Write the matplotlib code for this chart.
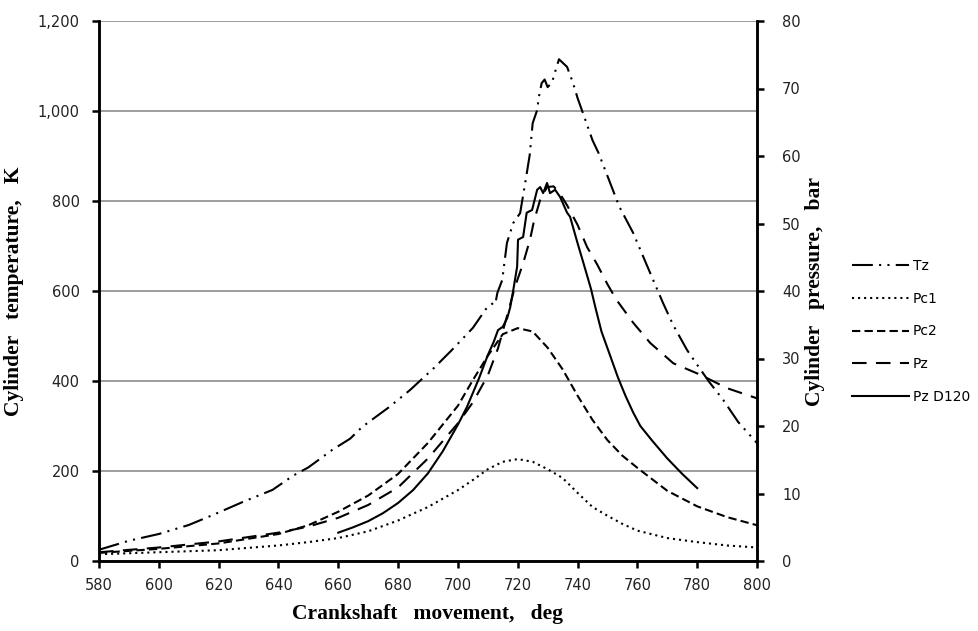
import matplotlib
matplotlib.use("Agg")
import matplotlib.pyplot as plt

# ---------------- data ----------------
tz_deg = [580, 590, 600, 610, 618, 628, 638, 645, 650, 658, 664, 668, 677, 684, 692, 698, 705,
          709.8, 711.8, 712.5, 713.2, 714.8, 716.4, 718.5, 720.8, 722.5, 724, 725, 726.5, 727,
          728, 729, 730, 731.5, 732.5, 733.8, 736.5, 738.5, 740, 743, 745, 747, 754, 758.6, 763,
          768.6, 772, 776.6, 780, 784, 788.7, 793.7, 800]
tz_K = [25, 45, 60, 80, 102, 131, 158, 190, 208, 247, 272, 298, 342, 380, 429, 469, 518,
        564, 573, 571, 596, 624, 707, 751, 773, 840, 902, 973, 1002, 1029,
        1062, 1070, 1053, 1064, 1087, 1115, 1098, 1062, 1029, 973, 935, 907, 787, 729, 660,
        573, 524, 469, 436, 398, 358, 309, 262]

pc_deg = [580, 600, 620, 640, 650, 660, 670, 680, 690, 700, 705, 710, 715, 720, 725, 730,
          735, 740, 745, 750, 755, 760, 770, 780, 790, 800]
pc1_bar = [1.0, 1.3, 1.6, 2.3, 2.8, 3.4, 4.4, 6.0, 8.0, 10.5, 12.0, 13.6, 14.7, 15.1, 14.7,
           13.6, 12.3, 10.1, 8.0, 6.7, 5.5, 4.5, 3.4, 2.8, 2.3, 2.0]
pc2_bar = [1.2, 1.8, 2.6, 4.0, 5.3, 7.3, 9.7, 12.9, 17.5, 23.0, 26.8, 30.4, 33.6, 34.5, 34.0,
           31.6, 28.4, 24.5, 20.9, 17.9, 15.6, 13.8, 10.4, 8.1, 6.5, 5.3]

pz_deg = [580, 600, 620, 640, 650, 660, 670, 680, 690, 700, 705, 710, 713.4, 716.8, 719,
          721.8, 724.1, 725.5, 727.5, 729.8, 732, 734, 736.5, 740, 743.2, 746.6, 750, 753,
          758.6, 764.3, 772, 781, 790, 800]
pz_bar = [1.3, 2.0, 2.9, 4.2, 5.1, 6.4, 8.3, 10.9, 15.2, 20.4, 23.5, 27.5, 31.5, 36.9, 40.5,
          44.1, 47.6, 50.5, 53.5, 55.4, 55.5, 54.5, 52.7, 49.8, 46.5, 43.9, 41.0, 38.7,
          35.3, 32.3, 29.3, 27.6, 25.6, 24.1]

d120_deg = [660, 665, 670, 675, 680, 685, 690, 695, 700, 703, 707, 710, 712, 713.4, 715,
            716.5, 717.5, 718.5, 719.8, 720.1, 721.8, 723, 724.8, 726.5, 727.5, 728.5, 729.8,
            730.8, 732.5, 734.2, 736.5, 737.5, 740, 742, 744.5, 746, 748, 751, 753.5, 756,
            758.6, 761, 765, 770, 775, 780]
d120_bar = [4.2, 5.0, 5.9, 7.1, 8.6, 10.5, 13.0, 16.3, 20.2, 22.8, 27.0, 30.5, 32.5, 34.2,
            34.7, 36.0, 37.6, 40.1, 43.6, 47.6, 48.0, 51.6, 52.0, 55.0, 55.4, 54.5, 56.0,
            54.5, 55.0, 53.9, 51.6, 51.0, 47.1, 44.1, 40.3, 37.5, 34.0, 30.3, 27.2, 24.5,
            22.0, 20.0, 17.8, 15.2, 12.9, 10.8]

x_ticks = list(range(580, 801, 20))
t_ticks = list(range(0, 1201, 200))
p_ticks = list(range(0, 81, 10))

series_labels = ["Tz", "Pc1", "Pc2", "Pz", "Pz D120"]

# ---------------- figure ----------------
W, H = 979, 631
fig = plt.figure(figsize=(W / 100, H / 100), dpi=100)
ax = fig.add_axes([99 / W, 1 - 561 / H, (757 - 99) / W, (561 - 21) / H])
ax2 = ax.twinx()

lw = 1.5
hTz, = ax.plot(tz_deg, tz_K, color="black", lw=lw, linestyle=(0, (10, 3, 1, 3, 1, 3)))
h1, = ax2.plot(pc_deg, pc1_bar, color="black", lw=lw, linestyle=(0, (1, 1.9)))
h2, = ax2.plot(pc_deg, pc2_bar, color="black", lw=lw, linestyle=(0, (4, 2)))
h3, = ax2.plot(pz_deg, pz_bar, color="black", lw=lw, linestyle=(0, (7, 4.5)))
h4, = ax2.plot(d120_deg, d120_bar, color="black", lw=lw, linestyle="-")

ax.set_xlim(580, 800)
ax.set_ylim(0, 1200)
ax2.set_ylim(0, 80)
ax.set_xticks(x_ticks)
ax.set_yticks(t_ticks)
ax2.set_yticks(p_ticks)
ax.set_yticklabels([f"{v:,}" for v in t_ticks])

ax.grid(axis="y", color="#8c8c8c", lw=1.2)
ax.set_axisbelow(True)

for a in (ax, ax2):
    a.spines["top"].set_visible(False)
    for s in ("left", "right", "bottom"):
        a.spines[s].set_linewidth(1.8)
        a.spines[s].set_color("black")

ax.tick_params(axis="x", direction="out", length=5, width=1.8, pad=7, colors="black",
               labelcolor="#222222", labelsize=10.5)
ax.tick_params(axis="y", direction="out", length=5, width=1.8, pad=9, colors="black",
               labelcolor="#222222", labelsize=10.5)
ax2.tick_params(axis="y", direction="out", length=5, width=1.8, pad=13, colors="black",
                labelcolor="#222222", labelsize=10.5)

serif = dict(family="Liberation Serif", weight="bold", size=15.5)
ax.set_xlabel("Crankshaft   movement,   deg", labelpad=8, **serif)
ax.set_ylabel("Cylinder   temperature,   K", labelpad=10, **serif)
ax2.set_ylabel("Cylinder   pressure,   bar", labelpad=3, **serif)

fig.legend([hTz, h1, h2, h3, h4], series_labels, loc="upper left",
           bbox_to_anchor=(845 / W, 1 - 252 / H), frameon=False, borderpad=0,
           handlelength=4.1, handletextpad=0.3, labelspacing=1.35,
           prop=dict(family="DejaVu Sans", size=10))

fig.savefig("out.png", dpi=100)
